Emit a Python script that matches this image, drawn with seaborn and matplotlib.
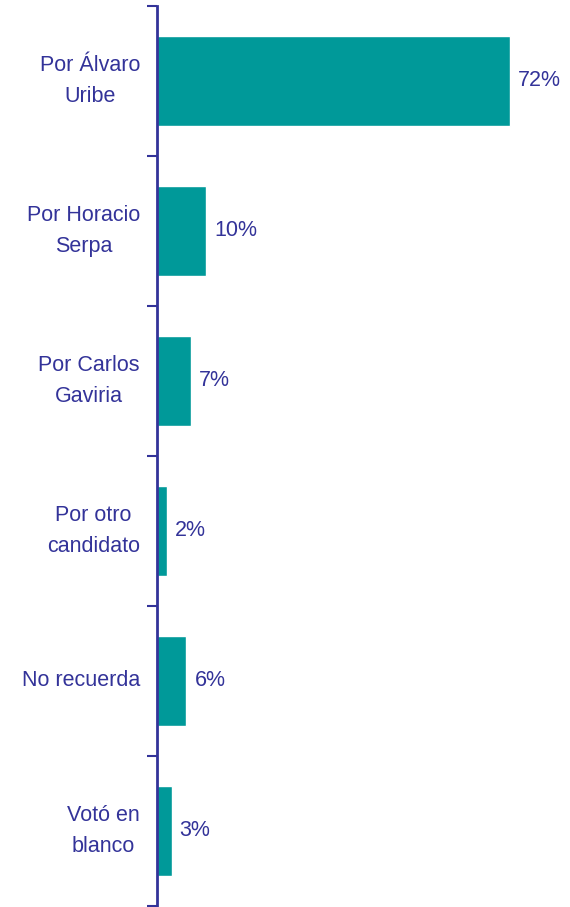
import matplotlib
matplotlib.use("Agg")
import matplotlib.pyplot as plt
import seaborn as sns
import pandas as pd

categories = ["Por Álvaro\nUribe", "Por Horacio\nSerpa", "Por Carlos\nGaviria",
              "Por otro\ncandidato", "No recuerda", "Votó en\nblanco"]
values = [72, 10, 7, 2, 6, 3]
value_labels = ["72%", "10%", "7%", "2%", "6%", "3%"]

df = pd.DataFrame({"cat": categories, "val": values})

sns.set_theme(style="white")
plt.rcParams['font.family'] = ['Liberation Sans', 'DejaVu Sans']

TEXT = "#333399"
BAR = "#009999"

fig = plt.figure(figsize=(5.70, 9.07), dpi=100)
ax = fig.add_axes([157/570, 1 - 906/907, 1 - 157/570, 900/907])

sns.barplot(data=df, y="cat", x="val", orient="h", color=BAR, saturation=1,
            width=0.6, ax=ax)

px = 353 / 72  # pixels per percent
ax.set_xlim(0, 413 / px)
ax.set_ylim(len(categories) - 0.5, -0.5)
ax.set_xlabel("")
ax.set_ylabel("")
ax.set_xticks([])

for s in ["top", "right", "bottom"]:
    ax.spines[s].set_visible(False)
ax.spines["left"].set_color(TEXT)
ax.spines["left"].set_linewidth(2)

ax.set_yticks([i - 0.5 for i in range(len(categories) + 1)], minor=False)
ax.set_yticklabels([""] * (len(categories) + 1))
ax.tick_params(axis="y", which="major", length=7, width=1.5, color=TEXT, left=True)

for i, c in enumerate(categories):
    ax.text(-17 / px, i, c, ha="right", va="center", multialignment="center",
            color=TEXT, fontsize=15.5, linespacing=1.62)

for i, (v, lab) in enumerate(zip(values, value_labels)):
    ax.text(v + 8 / px, i, lab, ha="left", va="center", color=TEXT, fontsize=15.5)

fig.savefig("out.png", dpi=100)
